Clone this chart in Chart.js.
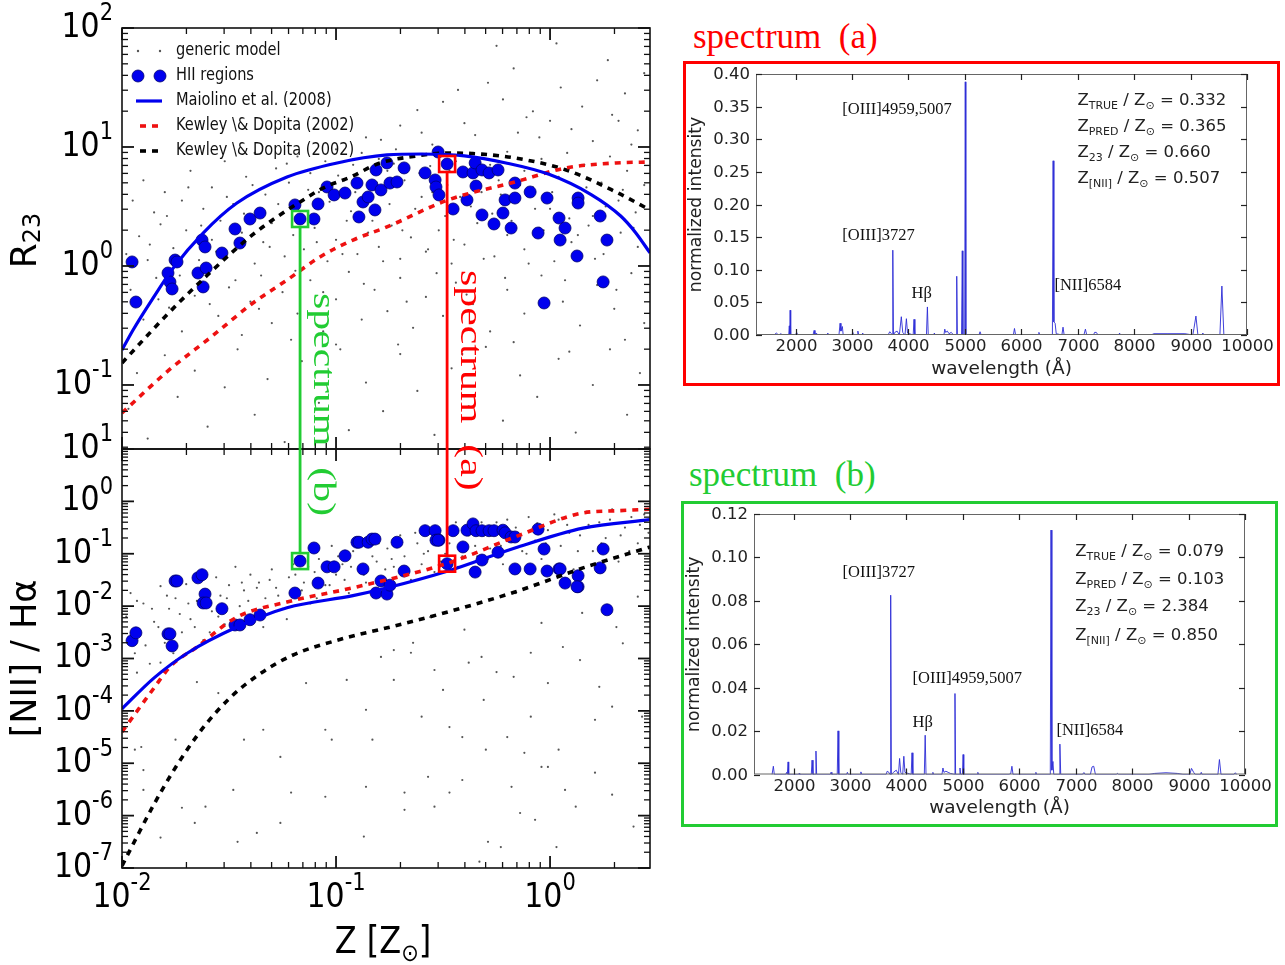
<!DOCTYPE html>
<html>
<head>
<meta charset="utf-8">
<title>R23 / NII calibrations and example spectra</title>
<script src="https://cdn.jsdelivr.net/npm/chart.js@4.4.0/dist/chart.umd.min.js"></script>
<style>
  html, body { margin: 0; padding: 0; background: #fff; }
  body { width: 1285px; height: 965px; position: relative; overflow: hidden; }
  #calib { position: absolute; left: 0; top: 0; }
  .frame { position: absolute; box-sizing: border-box; border: 3px solid; }
  .frame canvas { position: absolute; left: 0; top: 0; }
  #frameA { left: 683px; top: 61px; width: 597px; height: 325px; border-color: #ff0000; }
  #frameB { left: 681px; top: 501px; width: 597px; height: 326px; border-color: #22cc33; }
  .title { position: absolute; font-family: "Liberation Serif", serif; font-size: 35px; line-height: 1; white-space: pre; }
  #titleA { left: 693px; top: 19px; color: #ff0000; }
  #titleB { left: 689px; top: 457px; color: #22cc33; }
</style>
</head>
<body>
<canvas id="calib" width="660" height="965"></canvas>
<div class="title" id="titleA">spectrum  (a)</div>
<div class="frame" id="frameA"><canvas id="specA" width="590" height="318"></canvas></div>
<div class="title" id="titleB">spectrum  (b)</div>
<div class="frame" id="frameB"><canvas id="specB" width="590" height="319"></canvas></div>
<script>
// ---------- data (log10 values) ----------
// HII regions: Z, R23 and [NII]/Halpha
const hiiLogZ = [
  -1.953,-1.935,-1.785,-1.776,-1.766,-1.752,-1.743,-1.645,-1.626,-1.612,
  -1.621,-1.607,-1.533,-1.472,-1.449,-1.402,-1.355,-1.192,-1.168,-1.103,
  -1.084,-1.042,-1.009,-0.958,-0.902,-0.893,-0.874,-0.850,-0.832,-0.818,
  -0.813,-0.790,-0.762,-0.748,-0.715,-0.682,-0.584,-0.537,-0.533,-0.519,
  -0.523,-0.481,-0.453,-0.407,-0.388,-0.360,-0.350,-0.346,-0.318,-0.318,
  -0.285,-0.262,-0.243,-0.220,-0.210,-0.182,-0.164,-0.164,-0.093,-0.056,
  -0.028,-0.014,0.042,0.047,0.070,0.131,0.131,0.126,0.234,0.248,0.266];
const hiiLogR23 = [
  0.034,-0.303,-0.059,-0.134,-0.193,0.050,0.034,-0.059,0.218,0.160,
  -0.176,-0.017,0.109,0.311,0.193,0.395,0.445,0.513,0.395,0.395,
  0.521,0.664,0.597,0.613,0.697,0.412,0.538,0.580,0.681,0.471,
  0.807,0.639,0.866,0.697,0.706,0.824,0.782,0.723,0.664,0.597,
  0.958,0.857,0.479,0.790,0.555,0.782,0.866,0.672,0.807,0.429,
  0.782,0.353,0.807,0.445,0.555,0.319,0.697,0.571,0.622,0.277,
  -0.311,0.571,0.403,0.218,0.319,0.571,0.529,0.084,0.420,-0.134,0.218];
const hiiLogN2 = [
  -2.66,-2.51,-2.53,-2.53,-2.76,-1.52,-1.52,-1.46,-1.40,-1.77,
  -1.94,-1.94,-2.05,-2.36,-2.36,-2.26,-2.17,-1.75,-1.14,-0.89,
  -1.56,-1.25,-1.25,-1.04,-0.78,-0.78,-1.29,-0.78,-0.72,-0.72,
  -1.75,-1.52,-1.77,-1.60,-0.78,-1.33,-0.56,-0.56,-0.74,-0.74,
  -0.74,-1.19,-0.56,-0.87,-0.55,-0.43,-1.35,-0.56,-0.56,-1.12,
  -0.56,-0.56,-0.97,-0.55,-0.60,-0.68,-1.29,-0.68,-1.29,-0.53,
  -0.91,-1.33,-1.29,-1.29,-1.56,-1.42,-1.63,-1.63,-1.27,-0.91,-2.07];

// the two HII regions whose spectra are shown
const specAPoint = { logZ: -0.481, logR23: 0.857, logN2: -1.19 };
const specBPoint = { logZ: -1.168, logR23: 0.395, logN2: -1.14 };

// calibration curves, R23 panel
const maiolinoR23Z = [-2.0,-1.949,-1.855,-1.762,-1.621,-1.463,-1.229,-0.995,-0.762,-0.598,-0.40,-0.206,-0.005,0.192,0.33,0.40,0.467];
const maiolinoR23 = [-0.706,-0.54,-0.27,-0.02,0.277,0.529,0.748,0.866,0.933,0.941,0.925,0.866,0.77,0.60,0.42,0.28,0.11];
const kdRedR23Z = [-2.0,-1.78,-1.584,-1.388,-1.229,-1.075,-0.921,-0.762,-0.477,-0.164,0.075,0.308,0.467];
const kdRedR23 = [-1.235,-0.874,-0.597,-0.311,-0.118,0.076,0.218,0.328,0.555,0.706,0.824,0.866,0.874];
const kdBlackR23Z = [-2.0,-1.869,-1.79,-1.696,-1.603,-1.495,-1.388,-1.276,-1.168,-1.061,-0.935,-0.794,-0.64,-0.481,-0.32,-0.164,0.075,0.308,0.467];
const kdBlackR23 = [-0.815,-0.56,-0.41,-0.24,-0.08,0.10,0.265,0.412,0.538,0.655,0.745,0.866,0.92,0.950,0.94,0.908,0.807,0.622,0.471];

// calibration curves, [NII]/Halpha panel
const maiolinoN2Z = [-2.0,-1.850,-1.692,-1.463,-1.229,-0.921,-0.77,-0.477,-0.164,0.154,0.467];
const maiolinoN2 = [-3.96,-3.37,-2.89,-2.40,-2.03,-1.80,-1.66,-1.33,-0.89,-0.51,-0.35];
const kdRedN2Z = [-2.0,-1.850,-1.776,-1.650,-1.463,-1.229,-0.921,-0.477,-0.164,0.154,0.308,0.467];
const kdRedN2 = [-4.40,-3.56,-3.16,-2.78,-2.21,-1.92,-1.65,-1.18,-0.68,-0.22,-0.18,-0.15];
const kdBlackN2Z = [-2.0,-1.930,-1.850,-1.771,-1.692,-1.607,-1.495,-1.369,-1.210,-0.967,-0.748,-0.477,-0.164,0.154,0.467];
const kdBlackN2 = [-6.96,-6.40,-5.78,-5.22,-4.72,-4.25,-3.75,-3.33,-2.95,-2.62,-2.40,-2.11,-1.73,-1.27,-0.87];

// generic model cloud, [logZ, logR23]
const genericTop = [
  [-0.79,1.06],[-0.86,1.08],[-0.62,1.31],[-0.43,1.48],[-0.40,1.20],[-0.29,1.54],[-0.17,1.66],[-0.11,1.25],
  [0.03,1.87],[0.15,1.34],[0.27,1.73],[0.29,1.27],[0.41,1.14],[-0.70,1.18],[-0.55,1.02],[-0.50,1.38],
  [-0.35,1.10],[-0.22,1.40],[-0.05,1.08],[0.05,1.50],[0.10,1.15],[0.20,1.05],[0.35,1.45],[0.44,1.62],
  [-0.25,1.85],[-0.08,1.30],[0.22,1.56],[0.38,1.02],[-0.60,1.12],[-0.15,1.12],[0.00,1.22],[0.32,1.22],
  [-1.95,0.55],[-1.90,0.72],[-1.85,0.45],[-1.80,0.62],[-1.72,0.55],[-1.68,0.80],[-1.62,0.48],[-1.58,0.66],
  [-1.52,0.88],[-1.48,0.52],[-1.42,0.75],[-1.38,0.95],[-1.33,0.60],[-1.28,0.82],[-1.22,0.70],[-1.18,0.92],
  [-1.12,0.78],[-1.08,0.62],[-1.05,0.88],[-1.00,0.98],[-0.96,0.72],[-0.92,0.85],[-0.88,0.95],[-0.84,0.66],
  [-0.80,0.90],[-0.76,0.80],[-0.72,0.98],[-0.68,0.72],[-0.64,0.92],[-0.60,0.58],[-0.56,0.84],[-0.52,0.98],
  [-0.48,0.68],[-0.44,0.88],[-0.40,0.76],[-0.36,0.95],[-0.32,0.62],[-0.28,0.85],[-0.24,0.72],[-0.20,0.96],
  [-0.16,0.55],[-0.12,0.80],[-0.08,0.66],[-0.04,0.90],[0.00,0.48],[0.04,0.75],[0.08,0.95],[0.12,0.60],
  [0.16,0.85],[0.20,0.42],[0.24,0.70],[0.28,0.92],[0.32,0.55],[0.36,0.80],[0.40,0.45],[0.44,0.68],
  [-1.98,0.10],[-1.92,0.25],[-1.88,0.05],[-1.82,0.35],[-1.76,0.15],[-1.70,0.30],[-1.64,0.05],[-1.58,0.22],
  [-1.54,0.38],[-1.48,0.12],[-1.44,0.28],[-1.38,0.02],[-1.34,0.20],[-1.30,0.36],[-1.24,0.08],[-1.20,0.26],
  [-1.15,0.14],[-1.10,0.32],[-1.04,0.04],[-1.00,0.22],[-0.95,0.38],[-0.90,0.10],[-0.85,0.28],[-0.80,0.16],
  [-0.74,0.34],[-0.70,0.06],[-0.65,0.24],[-0.58,0.12],[-0.52,0.30],[-0.46,0.02],[-0.40,0.18],[-0.34,0.36],
  [-0.26,0.08],[-0.20,0.26],[-0.12,0.14],[-0.05,0.32],[0.02,0.04],[0.10,0.20],[0.18,0.34],[0.25,0.10],
  [0.33,0.28],[0.41,0.16],
  [-1.96,-0.20],[-1.90,-0.45],[-1.84,-0.10],[-1.78,-0.35],[-1.72,-0.55],[-1.66,-0.25],[-1.60,-0.05],[-1.55,-0.42],
  [-1.50,-0.18],[-1.44,-0.58],[-1.40,-0.30],[-1.35,-0.08],[-1.30,-0.48],[-1.25,-0.22],[-1.18,-0.40],[-1.12,-0.12],
  [-1.06,-0.55],[-1.00,-0.28],[-0.94,-0.05],[-0.88,-0.45],[-0.82,-0.20],[-0.76,-0.38],[-0.70,-0.10],[-0.64,-0.52],
  [-0.58,-0.26],[-0.50,-0.42],[-0.44,-0.14],[-0.36,-0.32],[-0.28,-0.55],[-0.20,-0.20],[-0.12,-0.40],[-0.04,-0.08],
  [0.06,-0.30],[0.14,-0.50],[0.22,-0.16],[0.30,-0.36],[0.38,-0.06],[0.44,-0.48],
  [-1.97,-1.20],[-1.93,-0.90],[-1.88,-1.45],[-1.80,-0.75],[-1.74,-1.10],[-1.66,-0.88],[-1.60,-1.35],[-1.52,-1.02],
  [-1.46,-0.70],[-1.38,-1.25],[-1.32,-0.95],[-1.24,-1.48],[-1.16,-0.80],[-1.08,-1.15],[-1.00,-0.66],[-0.94,-1.38],
  [-0.86,-0.98],[-0.78,-1.22],[-0.70,-0.74],[-0.62,-1.05],[-0.54,-1.42],[-0.46,-0.86],[-0.38,-1.18],[-0.30,-0.68],
  [-0.22,-1.30],[-0.14,-0.92],[-0.06,-1.10],[0.04,-0.78],[0.12,-1.40],[0.20,-1.00],[0.28,-0.70],[0.36,-1.25],[0.42,-0.90],
  [-1.87,0.18],[-1.83,-0.28],[-1.79,0.42],[-1.73,-0.08],[-1.69,0.66],[-1.63,0.34],[-1.59,-0.32],[-1.56,0.12],
  [-1.51,0.58],[-1.47,-0.12],[-1.43,0.44],[-1.39,0.68],[-1.36,-0.36],[-1.31,0.16],[-1.27,0.52],[-1.23,0.86],
  [-1.19,-0.04],[-1.16,0.40],[-1.13,0.64],[-1.09,0.20],[-1.06,-0.22],[-1.03,0.54],[-0.99,0.76],[-0.97,0.10],
  [-0.93,0.46],[-0.91,0.62],[-0.87,-0.15],[-0.83,0.38],[-0.81,0.70],[-0.78,0.04],[-0.75,0.52],[-0.73,0.86],
  [-0.69,0.30],[-0.67,-0.30],[-0.63,0.48],[-0.61,0.78],[-0.57,0.14],[-0.55,0.62],[-0.53,-0.06],[-0.49,0.42],
  [-0.47,0.80],[-0.45,0.22],[-0.42,0.58],[-0.39,-0.24],[-0.37,0.50],[-0.33,0.70],[-0.31,0.06],[-0.27,0.44],
  [-0.23,0.60],[-0.21,-0.10],[-0.18,0.38],[-0.14,0.68],[-0.10,0.02],[-0.07,0.48],[-0.03,0.30],[0.01,0.62],
  [0.07,-0.12],[0.09,0.40],[0.13,0.26],[0.17,0.66],[0.21,0.06],[0.26,0.50],[0.31,-0.20],[0.34,0.64],
  [0.39,0.32],[-1.21,-0.62],[-0.98,-0.70],[-0.71,-0.66],[-0.41,-0.74],[-0.17,-0.64],[0.09,-0.72],[0.35,-0.62]];

// generic model cloud, [logZ, log [NII]/Halpha]
const genericBottom = [
  [-1.98,-2.20],[-1.96,-1.75],[-1.94,-2.90],[-1.92,-2.45],[-1.90,-1.95],[-1.87,-3.10],[-1.85,-2.30],[-1.82,-1.62],
  [-1.80,-2.70],[-1.78,-2.05],[-1.75,-1.85],[-1.72,-2.50],[-1.70,-1.58],[-1.68,-2.25],[-1.65,-1.90],[-1.62,-2.65],
  [-1.60,-1.70],[-1.58,-2.10],[-1.56,-1.45],[-1.54,-1.80],[-1.52,-2.35],[-1.50,-1.60],[-1.47,-1.25],[-1.45,-2.00],
  [-1.43,-1.70],[-1.40,-1.40],[-1.38,-2.20],[-1.36,-1.55],[-1.33,-1.85],[-1.30,-1.30],[-1.28,-1.65],[-1.25,-2.05],
  [-1.22,-1.45],[-1.20,-1.20],[-1.18,-1.75],[-1.15,-1.55],[-1.12,-1.95],[-1.10,-1.35],[-1.08,-1.10],[-1.05,-1.60],
  [-1.02,-0.85],[-1.00,-1.40],[-0.97,-1.20],[-0.94,-1.75],[-0.92,-0.95],[-0.89,-1.30],[-0.86,-1.55],[-0.84,-0.75],
  [-0.81,-1.15],[-0.78,-1.45],[-0.76,-0.90],[-0.73,-1.25],[-0.70,-0.65],[-0.68,-1.05],[-0.65,-1.50],[-0.62,-0.80],
  [-0.60,-1.20],[-0.57,-0.95],[-0.54,-1.35],[-0.52,-0.70],[-0.49,-1.00],[-0.46,-0.55],[-0.43,-1.25],[-0.40,-0.80],
  [-0.37,-0.45],[-0.34,-1.05],[-0.31,-0.65],[-0.28,-0.90],[-0.25,-0.40],[-0.22,-1.20],[-0.19,-0.70],[-0.16,-0.50],
  [-0.13,-0.95],[-0.10,-0.30],[-0.07,-0.75],[-0.04,-1.10],[-0.01,-0.55],[0.02,-0.25],[0.05,-0.85],[0.08,-0.45],
  [0.11,-1.30],[0.14,-0.65],[0.17,-0.20],[0.20,-0.95],[0.23,-0.40],[0.26,-0.70],[0.29,-0.15],[0.32,-1.15],
  [0.35,-0.50],[0.38,-0.30],[0.41,-0.80],[0.44,-0.25],[0.46,-0.60],
  [-1.97,-2.60],[-1.93,-1.90],[-1.89,-2.75],[-1.86,-2.05],[-1.83,-2.40],[-1.79,-1.80],[-1.76,-2.90],[-1.73,-2.15],
  [-1.69,-1.95],[-1.66,-2.40],[-1.63,-1.80],[-1.59,-2.50],[-1.55,-2.20],[-1.51,-1.85],[-1.48,-2.45],[-1.44,-1.55],
  [-1.41,-1.90],[-1.37,-1.65],[-1.34,-2.40],[-1.31,-1.50],[-1.27,-1.80],[-1.23,-2.25],[-1.19,-1.40],[-1.16,-1.70],
  [-1.13,-1.25],[-1.09,-1.85],[-1.06,-1.30],[-1.03,-1.60],[-0.99,-1.05],[-0.96,-1.50],[-0.93,-1.25],[-0.90,-0.85],
  [-0.87,-1.40],[-0.83,-1.05],[-0.80,-0.80],[-0.77,-1.30],[-0.74,-1.10],[-0.71,-0.85],[-0.67,-1.35],[-0.63,-0.60],
  [-0.59,-1.00],[-0.55,-0.75],[-0.51,-1.15],[-0.47,-0.80],[-0.44,-0.40],[-0.41,-1.05],[-0.38,-0.65],[-0.35,-0.85],
  [-0.32,-0.40],[-0.29,-1.10],[-0.26,-0.55],[-0.23,-0.85],[-0.20,-0.35],[-0.15,-0.60],[-0.11,-1.00],[-0.06,-0.42],
  [-0.02,-0.80],[0.04,-0.35],[0.09,-0.60],[0.13,-0.95],[0.18,-0.45],[0.24,-0.80],[0.28,-0.35],[0.33,-0.65],
  [0.37,-0.95],[0.42,-0.45],
  [-0.16,-1.75],[-0.04,-2.32],[0.15,-2.13],[0.31,-2.40],[0.06,-2.78],[-0.40,-2.45],[-0.56,-2.21],[-0.64,-2.70],
  [-0.32,-2.97],[0.41,-1.82],[-0.73,-2.84],
  [-1.05,-4.36],[-0.83,-4.55],[-0.86,-3.98],[-0.73,-3.41],[-0.65,-2.89],[-0.54,-3.22],[-0.38,-3.08],[-0.25,-3.26],
  [-0.17,-3.35],[-0.01,-3.47],[0.23,-3.54],[0.34,-2.71],[0.43,-4.11],[0.21,-4.17],[0.04,-4.74],[-0.20,-4.50],
  [-0.41,-4.50],[-0.47,-4.31],[-0.60,-4.11],[-1.02,-4.55],[-1.14,-3.47],[-1.26,-4.88],[-1.34,-4.36],[-1.43,-4.55],
  [-1.55,-3.66],[-1.65,-3.45],[-1.75,-4.55],[-1.91,-4.69],[-1.90,-5.13],[-1.93,-3.27],[-1.82,-3.08],[-0.09,-4.11],
  [-0.31,-3.79],[-0.09,-2.89],[0.14,-3.03],[0.29,-3.92],[-0.79,-2.97],[-0.95,-3.41],[-0.50,-3.60],[-0.30,-4.74],
  [-0.12,-4.80],[-0.04,-5.07],
  [-1.94,-4.74],[-1.90,-5.51],[-1.72,-5.85],[-1.66,-6.14],[-1.82,-6.42],[-1.46,-6.50],[-1.37,-6.33],[-1.26,-6.14],
  [-1.05,-5.64],[-0.87,-6.40],[-0.68,-5.89],[-0.54,-5.83],[-0.29,-6.50],[-0.23,-6.60],[0.03,-6.60],[-0.33,-6.88],
  [0.12,-5.83],[0.29,-5.60],[0.39,-6.21],[-0.57,-5.26],[-0.41,-5.32],[-0.14,-5.95],[-0.07,-6.08],[0.21,-5.18],
  [-0.01,-5.07],[0.07,-5.51],[-0.18,-5.45],[-0.86,-5.45],[-1.21,-5.56],[-1.48,-5.51],[-1.61,-5.83],[-0.68,-5.56],
  [-0.47,-5.56]];

// spectrum (a): wavelength [A] and normalized intensity
const specAWave = [
  1620,1660,1700,1740,1770, 1880,1890,1897,1905,1915, 2000,2020,2040, 2310,2330,2345,2370,2390,
  2560,2570,2590, 2770,2790,2805,2830,2845, 3000,3015,3030, 3090,3105,3120, 3180,3190,3200,
  3640,3670,3700,3712,3724,3736, 3760,3800,3840, 3875,3900,3940, 3965,3985, 4085,4100,4115,
  4320,4337,4352, 4450,4460,4475, 4630,4645,4660,4690,4720,4760,4800, 4845,4857,4868,
  4942,4955,4966, 4998,5008,5018, 5250,5270,5290, 5860,5880,5900, 6300,6313,6326,
  6552,6565,6578,6600,6620, 6720,6740,6760, 7110,7137,7160, 7280,7300,7330,7360,
  7730,7742,7755, 8300,8350,8600,8900, 9040,9060,9095,9130, 9200,9218,9235, 9520,9555,9590,9650];
const specAFlux = [
  0,0.003,0,0.002,0, 0,0.014,0,0.038,0, 0,0.004,0, 0,0.007,0,0.003,0,
  0,0.003,0, 0,0.018,0.006,0.013,0, 0,0.004,0, 0,0.006,0, 0,0.003,0,
  0,0.005,0.002,0,0.130,0, 0.004,0.006,0, 0.028,0.004,0, 0.025,0.003, 0,0.024,0,
  0,0.043,0, 0,0.003,0, 0,0.009,0.004,0.006,0.002,0.004,0, 0,0.090,0,
  0,0.129,0, 0,0.388,0, 0,0.005,0, 0,0.010,0, 0,0.004,0,
  0,0.267,0.020,0.018,0.002, 0,0.012,0, 0,0.009,0, 0,0.004,0.004,0,
  0,0.003,0, 0,0.002,0.002,0.002, 0,0.010,0.029,0, 0,0.003,0, 0,0.075,0,0];

// spectrum (b)
const specBWave = [
  1620,1643,1660, 1860,1880,1890,1904,1915, 2090,2100,2110, 2315,2329,2345, 2385,2398,2410,
  2650,2665,2680, 2775,2789,2803, 2940,2955,2970, 3180,3194,3208,
  3640,3660,3690,3710,3722,3734, 3770,3820,3860, 3880,3900,3935, 3955,3975, 4085,4100,4115,
  4318,4333,4348, 4460,4470,4480, 4630,4648,4665,4700,4740,4780, 4848,4861,4872,
  4935,4950,4962, 4993,5005,5017, 5255,5266,5278, 5820,5850,5870,5890, 6285,6295,6305,
  6550,6563,6578,6597,6612, 6705,6720,6735, 7120,7146,7170, 7260,7290,7320,7350,
  7720,7740,7760, 8300,8400,8600,8800,8900, 9020,9053,9090,9120, 9210,9225,9240,
  9520,9547,9575, 9800,9830,9850];
const specBFlux = [
  0,0.0038,0, 0,0.001,0,0.0058,0, 0,0.0005,0, 0,0.0066,0, 0,0.0108,0,
  0,0.001,0, 0,0.0201,0, 0,0.001,0, 0,0.0012,0,
  0,0.0015,0.001,0,0.0826,0, 0.001,0.002,0, 0.0074,0.001,0, 0.0084,0.001, 0,0.010,0,
  0,0.0181,0, 0,0.001,0, 0,0.003,0.001,0.0015,0.001,0.0005, 0,0.0373,0,
  0,0.003,0, 0,0.0092,0, 0,0.001,0, 0,0.0005,0.0038,0, 0,0.001,0,
  0,0.1126,0.002,0.006,0, 0,0.0140,0, 0,0.0009,0, 0,0.0035,0.0038,0,
  0,0.0005,0, 0,0.0005,0.0008,0.0005,0, 0,0.0028,0.001,0, 0,0.001,0,
  0,0.0069,0, 0,0.0008,0];

const waveTicks = [2000, 3000, 4000, 5000, 6000, 7000, 8000, 9000, 10000];
const specATicks = [0, 0.05, 0.10, 0.15, 0.20, 0.25, 0.30, 0.35, 0.40];
const specBTicks = [0, 0.02, 0.04, 0.06, 0.08, 0.10, 0.12];

const specAInfo = [['TRUE', '0.332'], ['PRED', '0.365'], ['23', '0.660'], ['[NII]', '0.507']];
const specBInfo = [['TRUE', '0.079'], ['PRED', '0.103'], ['23', '2.384'], ['[NII]', '0.850']];

const legendLabels = ['generic model', 'HII regions', 'Maiolino et al. (2008)', 'Kewley \\& Dopita (2002)', 'Kewley \\& Dopita (2002)'];

// ---------- helpers ----------
const SANS = '"DejaVu Sans"';
const SERIF = '"Liberation Serif"';
const STRETCH = 1.15;
const BLUE = '#0000ee';
const RED = '#ee1111';
const GREEN = '#22cc33';

function toPoints(xs, ys) {
  return xs.map((x, i) => ({ x: 10 ** x, y: 10 ** ys[i] }));
}
function pairsToPoints(pairs) {
  return pairs.map(p => ({ x: 10 ** p[0], y: 10 ** p[1] }));
}
function linPoints(xs, ys) {
  return xs.map((x, i) => ({ x: x, y: ys[i] }));
}

// draws a row of [text, size, dy] parts, optionally rotated / stretched
function richText(ctx, parts, x, y, o) {
  ctx.save();
  ctx.fillStyle = o.color || '#000';
  ctx.textAlign = 'left';
  ctx.textBaseline = o.baseline || 'middle';
  const fam = o.family || SANS;
  let w = 0;
  for (const p of parts) { ctx.font = p[1] + 'px ' + fam; w += ctx.measureText(p[0]).width; }
  ctx.translate(x, y);
  ctx.rotate(o.angle || 0);
  ctx.scale(o.sx || 1, o.sy || 1);
  let cx = o.align === 'right' ? -w : o.align === 'center' ? -w / 2 : 0;
  for (const p of parts) {
    ctx.font = p[1] + 'px ' + fam;
    ctx.fillText(p[0], cx, p[2] || 0);
    cx += ctx.measureText(p[0]).width;
  }
  ctx.restore();
}

function powLabel(ctx, e, x, y, align) {
  richText(ctx, [['10', 30, 0], [String(e), 21, -12]], x, y, { align: align, sy: STRETCH });
}

function tick(ctx, x1, y1, x2, y2, w) {
  ctx.lineWidth = w;
  ctx.beginPath();
  ctx.moveTo(x1, y1);
  ctx.lineTo(x2, y2);
  ctx.stroke();
}

// log ticks helper: calls fn(value, isMajor, exponent) for 1..9 x 10^e inside [min, max]
function eachLogTick(min, max, fn) {
  for (let e = Math.floor(Math.log10(min)); e <= Math.ceil(Math.log10(max)); e++) {
    for (let m = 1; m <= 9; m++) {
      const v = m * 10 ** e;
      if (v >= min * 0.9999 && v <= max * 1.0001) fn(v, m === 1, e);
    }
  }
}

// ---------- left figure decorations ----------
const calibDecor = {
  id: 'calibDecor',
  afterDraw(chart) {
    const ctx = chart.ctx;
    const ca = chart.chartArea;
    const x = chart.scales.x;
    const panels = [chart.scales.yTop, chart.scales.yBot];

    ctx.save();
    ctx.strokeStyle = '#111';

    panels.forEach(s => {
      ctx.lineWidth = 1.6;
      ctx.strokeRect(ca.left, s.top, ca.right - ca.left, s.bottom - s.top);
      eachLogTick(s.min, s.max, (v, major) => {
        const py = s.getPixelForValue(v);
        const len = major ? 12 : 6;
        tick(ctx, ca.left, py, ca.left + len, py, major ? 1.8 : 1.3);
        tick(ctx, ca.right, py, ca.right - len, py, major ? 1.8 : 1.3);
      });
      eachLogTick(x.min, x.max, (v, major) => {
        const px = x.getPixelForValue(v);
        const len = major ? 12 : 6;
        tick(ctx, px, s.top, px, s.top + len, major ? 1.8 : 1.3);
        tick(ctx, px, s.bottom, px, s.bottom - len, major ? 1.8 : 1.3);
      });
      eachLogTick(s.min, s.max, (v, major, e) => {
        if (major) powLabel(ctx, e, ca.left - 9, s.getPixelForValue(v), 'right');
      });
    });

    eachLogTick(x.min, x.max, (v, major, e) => {
      if (major) powLabel(ctx, e, x.getPixelForValue(v), ca.bottom + 30, 'center');
    });

    // axis titles
    richText(ctx, [['Z [Z', 32, 0], ['\u2299', 21, 10], [']', 32, 0]], (ca.left + ca.right) / 2 - 3, ca.bottom + 75, { align: 'center', sy: STRETCH });
    const yTop = panels[0], yBot = panels[1];
    richText(ctx, [['R', 36, 0], ['23', 24, 7]], 27, (yTop.top + yTop.bottom) / 2 + 2, { align: 'center', angle: -Math.PI / 2 });
    richText(ctx, [['[NII] / H\u03b1', 35, 0]], 27, (yBot.top + yBot.bottom) / 2, { align: 'center', angle: -Math.PI / 2 });

    // legend
    const lx = ca.left + 54, rows = [51, 76, 101, 126, 151];
    legendLabels.forEach((t, i) => richText(ctx, [[t, 14.6, 0]], lx, rows[i], { sy: STRETCH, color: '#111' }));
    ctx.fillStyle = '#555';
    [138, 160].forEach(px => { ctx.beginPath(); ctx.arc(px, rows[0], 1.2, 0, 2 * Math.PI); ctx.fill(); });
    [138, 160].forEach(px => {
      ctx.beginPath(); ctx.arc(px, rows[1], 6, 0, 2 * Math.PI);
      ctx.fillStyle = BLUE; ctx.fill();
      ctx.lineWidth = 0.8; ctx.strokeStyle = '#000070'; ctx.stroke();
    });
    ctx.strokeStyle = BLUE; tick(ctx, 136, rows[2], 162, rows[2], 3.2);
    ctx.setLineDash([6, 6]);
    ctx.strokeStyle = RED; tick(ctx, 140, rows[3], 164, rows[3], 3.6);
    ctx.strokeStyle = '#000'; tick(ctx, 140, rows[4], 164, rows[4], 3.6);
    ctx.setLineDash([]);

    // links from the two HII regions to their spectra
    [[specAPoint, '#ff0000', 'spectrum  (a)', 106], [specBPoint, GREEN, 'spectrum  (b)', 74]].forEach(([p, col, label, off]) => {
      const px = x.getPixelForValue(10 ** p.logZ);
      const pyT = yTop.getPixelForValue(10 ** p.logR23);
      const pyB = yBot.getPixelForValue(10 ** p.logN2);
      ctx.strokeStyle = col;
      ctx.lineWidth = 2.6;
      ctx.strokeRect(px - 8, pyT - 8, 16, 16);
      ctx.strokeRect(px - 8, pyB - 8, 16, 16);
      tick(ctx, px, pyT + 8, px, pyB - 8, 2.8);
      richText(ctx, [[label, 31, 0]], px + 14, pyT + off, { angle: Math.PI / 2, sx: 1.35, family: SERIF, color: col, baseline: 'alphabetic' });
    });
    ctx.restore();
  }
};

// ---------- left figure ----------
function setupCalibrationChart() {
  const lineBase = { showLine: true, pointRadius: 0, cubicInterpolationMode: 'monotone', fill: false, order: 0 };
  const hiiStyle = { pointRadius: 6, pointBackgroundColor: BLUE, pointBorderColor: '#000070', pointBorderWidth: 0.8, showLine: false, order: 1 };
  const genStyle = { pointRadius: 1.1, pointBackgroundColor: '#555', pointBorderWidth: 0, showLine: false, order: 2 };

  new Chart(document.getElementById('calib'), {
    type: 'scatter',
    data: {
      datasets: [
        Object.assign({ label: 'Maiolino R23', yAxisID: 'yTop', data: toPoints(maiolinoR23Z, maiolinoR23), borderColor: BLUE, borderWidth: 3.2 }, lineBase),
        Object.assign({ label: 'KD02 red R23', yAxisID: 'yTop', data: toPoints(kdRedR23Z, kdRedR23), borderColor: RED, borderWidth: 3.6, borderDash: [6, 6] }, lineBase),
        Object.assign({ label: 'KD02 black R23', yAxisID: 'yTop', data: toPoints(kdBlackR23Z, kdBlackR23), borderColor: '#000', borderWidth: 3.6, borderDash: [6, 6] }, lineBase),
        Object.assign({ label: 'Maiolino N2', yAxisID: 'yBot', data: toPoints(maiolinoN2Z, maiolinoN2), borderColor: BLUE, borderWidth: 3.2 }, lineBase),
        Object.assign({ label: 'KD02 red N2', yAxisID: 'yBot', data: toPoints(kdRedN2Z, kdRedN2), borderColor: RED, borderWidth: 3.6, borderDash: [6, 6] }, lineBase),
        Object.assign({ label: 'KD02 black N2', yAxisID: 'yBot', data: toPoints(kdBlackN2Z, kdBlackN2), borderColor: '#000', borderWidth: 3.6, borderDash: [6, 6] }, lineBase),
        Object.assign({ label: 'HII regions R23', yAxisID: 'yTop', data: toPoints(hiiLogZ, hiiLogR23) }, hiiStyle),
        Object.assign({ label: 'HII regions N2', yAxisID: 'yBot', data: toPoints(hiiLogZ, hiiLogN2) }, hiiStyle),
        Object.assign({ label: 'generic model R23', yAxisID: 'yTop', data: pairsToPoints(genericTop) }, genStyle),
        Object.assign({ label: 'generic model N2', yAxisID: 'yBot', data: pairsToPoints(genericBottom) }, genStyle)
      ]
    },
    options: {
      responsive: false,
      animation: false,
      layout: { padding: { top: 28, right: 10, left: 0, bottom: 0 } },
      plugins: { legend: { display: false }, tooltip: { enabled: false } },
      scales: {
        x: {
          type: 'logarithmic', min: 0.01, max: 10 ** 0.467,
          ticks: { display: false }, grid: { display: false }, border: { display: false },
          afterFit: s => { s.height = 97; }
        },
        yTop: {
          type: 'logarithmic', position: 'left', stack: 'panels', stackWeight: 421, weight: 2,
          min: 10 ** -1.538, max: 100,
          ticks: { display: false }, grid: { display: false }, border: { display: false },
          afterFit: s => { s.width = 122; }
        },
        yBot: {
          type: 'logarithmic', position: 'left', stack: 'panels', stackWeight: 419, weight: 1,
          min: 1e-7, max: 10,
          ticks: { display: false }, grid: { display: false }, border: { display: false },
          afterFit: s => { s.width = 122; }
        }
      }
    },
    plugins: [calibDecor]
  });
}

// ---------- spectra ----------
function spectrumDecor(notes, info, infoAt) {
  return {
    id: 'spectrumDecor',
    afterDraw(chart) {
      const ctx = chart.ctx, ca = chart.chartArea;
      const x = chart.scales.x, y = chart.scales.y;
      ctx.save();
      ctx.strokeStyle = '#666';
      ctx.lineWidth = 1;
      ctx.strokeRect(ca.left + 0.5, ca.top + 0.5, ca.right - ca.left - 1, ca.bottom - ca.top - 1);
      ctx.strokeStyle = '#222';
      x.ticks.forEach(t => {
        const px = Math.round(x.getPixelForValue(t.value)) + 0.5;
        tick(ctx, px, ca.bottom, px, ca.bottom - 6, 1.2);
        tick(ctx, px, ca.top, px, ca.top + 6, 1.2);
        richText(ctx, [[String(t.value), 16.5, 0]], px, ca.bottom + 12, { align: 'center', color: '#222' });
      });
      y.ticks.forEach(t => {
        const py = Math.round(y.getPixelForValue(t.value)) + 0.5;
        tick(ctx, ca.left, py, ca.left + 6, py, 1.2);
        tick(ctx, ca.right, py, ca.right - 6, py, 1.2);
        richText(ctx, [[t.value.toFixed(2), 16.5, 0]], ca.left - 6, py, { align: 'right', color: '#222' });
      });
      // line identifications
      notes.forEach(n => richText(ctx, [[n.text, 16.5, 0]], x.getPixelForValue(n.wave), y.getPixelForValue(n.level), { family: SERIF, color: '#111' }));
      // metallicities
      info.forEach((row, i) => {
        richText(ctx, [['Z', 16.5, 0], [row[0], 11, 5], [' / Z', 16.5, 0], ['\u2299', 11, 5], [' = ' + row[1], 16.5, 0]],
          x.getPixelForValue(infoAt.wave), y.getPixelForValue(infoAt.levels[i]), { color: '#222' });
      });
      // axis titles
      richText(ctx, [['wavelength (\u00c5)', 18.5, 0]], (ca.left + ca.right) / 2, ca.bottom + 34, { align: 'center', color: '#222' });
      richText(ctx, [['normalized intensity', 17.2, 0]], ca.left - 59, (ca.top + ca.bottom) / 2, { align: 'center', angle: -Math.PI / 2, color: '#222' });
      ctx.restore();
    }
  };
}

function setupSpectrumChart(id, waves, flux, yTicks, bottomSpace, notes, info, infoAt) {
  new Chart(document.getElementById(id), {
    type: 'scatter',
    data: {
      datasets: [{
        data: linPoints(waves, flux),
        showLine: true, pointRadius: 0, borderColor: '#2b2bd6', borderWidth: 0.9, tension: 0
      }]
    },
    options: {
      responsive: false,
      animation: false,
      layout: { padding: { left: 0, top: 10, right: 29, bottom: 0 } },
      plugins: { legend: { display: false }, tooltip: { enabled: false } },
      scales: {
        x: {
          type: 'linear', min: 1300, max: 10000,
          afterBuildTicks: s => { s.ticks = waveTicks.map(v => ({ value: v })); },
          afterFit: s => { s.height = bottomSpace; },
          grid: { display: false }, border: { display: false },
          ticks: { display: false }
        },
        y: {
          type: 'linear', min: 0, max: yTicks[yTicks.length - 1],
          afterBuildTicks: s => { s.ticks = yTicks.map(v => ({ value: v })); },
          afterFit: s => { s.width = 70; },
          grid: { display: false }, border: { display: false },
          ticks: { display: false }
        }
      }
    },
    plugins: [spectrumDecor(notes, info, infoAt)]
  });
}

setupCalibrationChart();

setupSpectrumChart('specA', specAWave, specAFlux, specATicks, 47,
  [
    { text: '[OIII]4959,5007', wave: 2830, level: 0.345 },
    { text: '[OIII]3727', wave: 2830, level: 0.152 },
    { text: 'H\u03b2', wave: 4055, level: 0.064 },
    { text: '[NII]6584', wave: 6588, level: 0.075 }
  ],
  specAInfo, { wave: 6995, levels: [0.359, 0.319, 0.279, 0.239] });

setupSpectrumChart('specB', specBWave, specBFlux, specBTicks, 48.5,
  [
    { text: '[OIII]3727', wave: 2868, level: 0.0928 },
    { text: '[OIII]4959,5007', wave: 4108, level: 0.0441 },
    { text: 'H\u03b2', wave: 4108, level: 0.0238 },
    { text: '[NII]6584', wave: 6659, level: 0.0201 }
  ],
  specBInfo, { wave: 6992, levels: [0.1025, 0.0896, 0.0771, 0.0638] });
</script>
</body>
</html>
